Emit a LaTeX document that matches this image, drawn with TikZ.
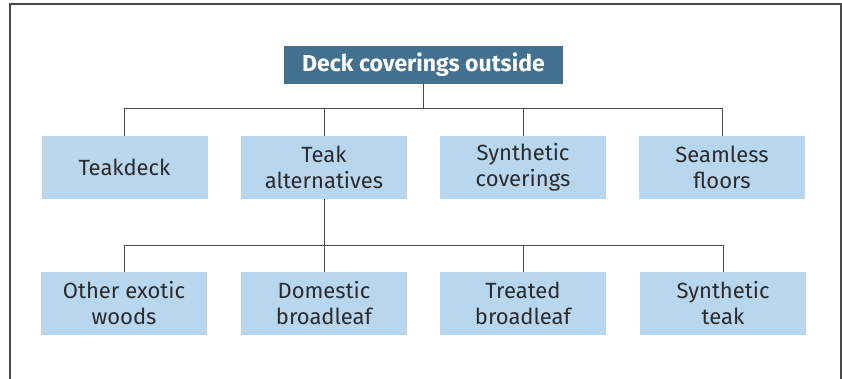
\documentclass[tikz,border=0pt]{standalone}
\usepackage{fontspec}
\setmainfont{Fira Sans}
\usetikzlibrary{positioning, calc}
\definecolor{deckblue}{HTML}{41718E}
\definecolor{paleblue}{HTML}{B8D7EE}
\definecolor{inkgray}{HTML}{2B2B2B}
\definecolor{framegray}{HTML}{4A4A4A}

\begin{document}
\begin{tikzpicture}[
  x=1pt, y=-1pt,
  topbox/.style={
    fill=deckblue, text=white, font=\fontsize{23}{26}\selectfont\bfseries,
    minimum width=279pt, minimum height=38pt, inner sep=0pt
  },
  catbox/.style={
    fill=paleblue, text=inkgray, font=\fontsize{22}{26}\selectfont,
    minimum width=166pt, minimum height=63pt, align=center, inner sep=0pt
  },
  link/.style={draw=inkgray!85, line width=1pt},
]

% Page size and frame
\useasboundingbox (0,0) rectangle (842,379);
\draw[framegray, line width=1.2pt] (10,379) -- (10,4) -- (841,4) -- (841,379);

% =============================================
% Top: root
% =============================================
\node[topbox] (deck) at (423.5,65) {Deck coverings outside};

% =============================================
% Row 1: main categories
% =============================================
\node[catbox] (teakdeck) at (124.5,167.5) {Teakdeck};
\node[catbox] (alt)      at (324,167.5)   {Teak\\alternatives};
\node[catbox] (synth)    at (523,167.5)   {Synthetic\\coverings};
\node[catbox] (seamless) at (722,167.5)   {Seamless\\floors};

% =============================================
% Row 2: teak alternatives
% =============================================
\node[catbox] (exotic)   at (124,303.5) {Other exotic\\woods};
\node[catbox] (domestic) at (324,303.5) {Domestic\\broadleaf};
\node[catbox] (treated)  at (523,303.5) {Treated\\broadleaf};
\node[catbox] (synteak)  at (723,303.5) {Synthetic\\teak};

% =============================================
% Connectors
% =============================================
\coordinate (bus1) at (deck.south |- 0,109);
\coordinate (bus2) at (alt.south |- 0,245);

\draw[link] (deck.south) -- (bus1);
\foreach \n in {teakdeck, alt, synth, seamless}
  \draw[link] (bus1) -| (\n.north);

\draw[link] (alt.south) -- (bus2);
\foreach \n in {exotic, domestic, treated, synteak}
  \draw[link] (bus2) -| (\n.north);

\end{tikzpicture}
\end{document}
